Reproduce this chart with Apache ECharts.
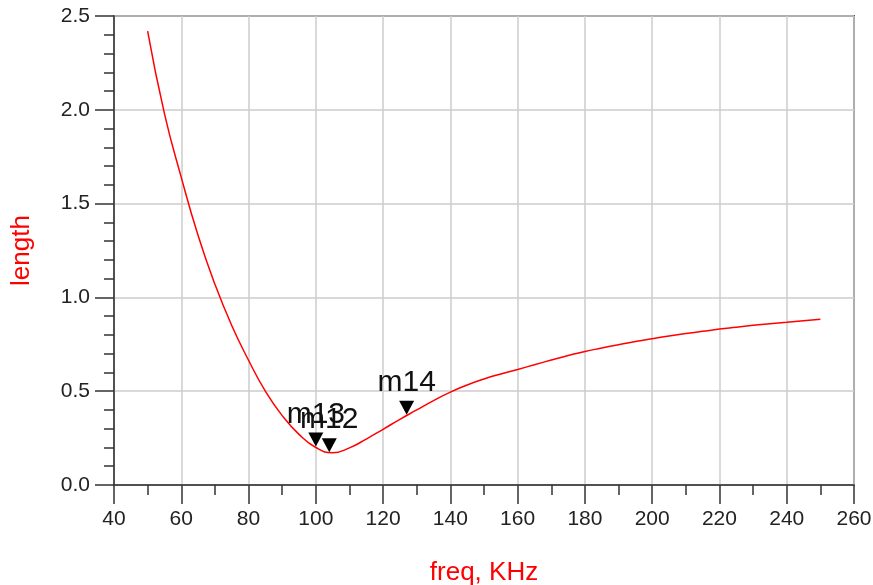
<!DOCTYPE html>
<html>
<head>
<meta charset="utf-8">
<script src="https://cdn.jsdelivr.net/npm/echarts@6/dist/echarts.min.js"></script>
<style>
  html, body { margin: 0; padding: 0; background: #fff; }
  #chart { width: 873px; height: 585px; }
</style>
</head>
<body>
<div id="chart"></div>
<script>
// freq (KHz) and length
const freq = [50, 55, 60, 65, 70, 75, 80, 85, 90, 95, 100, 105, 110, 115, 120, 125, 130, 135, 140, 145, 150, 155, 160, 165, 170, 175, 180, 185, 190, 195, 200, 205, 210, 215, 220, 225, 230, 235, 240, 245, 250];
const length = [2.42, 1.98, 1.64, 1.33, 1.07, 0.85, 0.665, 0.50, 0.37, 0.27, 0.20, 0.172, 0.198, 0.245, 0.297, 0.35, 0.40, 0.45, 0.495, 0.533, 0.565, 0.592, 0.616, 0.641, 0.666, 0.69, 0.712, 0.73, 0.748, 0.765, 0.78, 0.794, 0.807, 0.819, 0.831, 0.841, 0.851, 0.86, 0.868, 0.876, 0.883];

// markers
const markerNames = ['m13', 'm12', 'm14'];
const markerFreq = [100, 104, 127];
const markerLength = [0.205, 0.175, 0.375];

const FONT = '"Liberation Sans", Arial, sans-serif';
const chart = echarts.init(document.getElementById('chart'));

const option = {
  animation: false,
  backgroundColor: '#fff',
  grid: {
    left: 114,
    right: 19,
    top: 16,
    bottom: 100,
    outerBoundsMode: 'none',
    containLabel: false,
    show: true,
    borderColor: '#555',
    borderWidth: 2,
  },
  xAxis: {
    type: 'value',
    min: 40,
    max: 260,
    interval: 20,
    name: 'freq, KHz',
    nameLocation: 'middle',
    nameGap: 75,
    nameTextStyle: { color: '#ff0000', fontSize: 26, fontFamily: FONT },
    axisLine: { lineStyle: { color: '#333', width: 1.5 } },
    axisTick: { length: 19, lineStyle: { color: '#333', width: 1.5 } },
    minorTick: { show: true, splitNumber: 2, length: 10, lineStyle: { color: '#333', width: 1.5 } },
    axisLabel: { color: '#222', fontSize: 21, fontFamily: FONT, margin: 24 },
    splitLine: { show: true, lineStyle: { color: '#cccccc', width: 1.5 } },
  },
  yAxis: {
    type: 'value',
    min: 0,
    max: 2.5,
    interval: 0.5,
    name: 'length',
    nameLocation: 'middle',
    nameGap: 79,
    nameTextStyle: { color: '#ff0000', fontSize: 26, fontFamily: FONT },
    axisLine: { show: true, lineStyle: { color: '#333', width: 1.5 } },
    axisTick: { show: true, length: 19, lineStyle: { color: '#333', width: 1.5 } },
    minorTick: { show: true, splitNumber: 5, length: 10, lineStyle: { color: '#333', width: 1.5 } },
    axisLabel: {
      color: '#222', fontSize: 21, fontFamily: FONT, margin: 24,
      formatter: (v) => v.toFixed(1),
    },
    splitLine: { show: true, lineStyle: { color: '#cccccc', width: 1.5 } },
  },
  series: [
    {
      type: 'line',
      data: freq.map((f, i) => [f, length[i]]),
      smooth: 0.5,
      showSymbol: false,
      lineStyle: { color: '#ff0000', width: 1.5 },
      markPoint: {
        symbol: 'path://M0,0 L10,0 L5,10 Z',
        symbolSize: [15, 14],
        symbolOffset: [0, -7],
        itemStyle: { color: '#000' },
        label: {
          show: true,
          position: 'top',
          distance: 3,
          color: '#111',
          fontSize: 30,
          fontFamily: FONT,
          formatter: (p) => p.name,
        },
        data: markerNames.map((n, i) => ({ name: n, coord: [markerFreq[i], markerLength[i]] })),
      },
    },
  ],
};

chart.setOption(option);
</script>
</body>
</html>
